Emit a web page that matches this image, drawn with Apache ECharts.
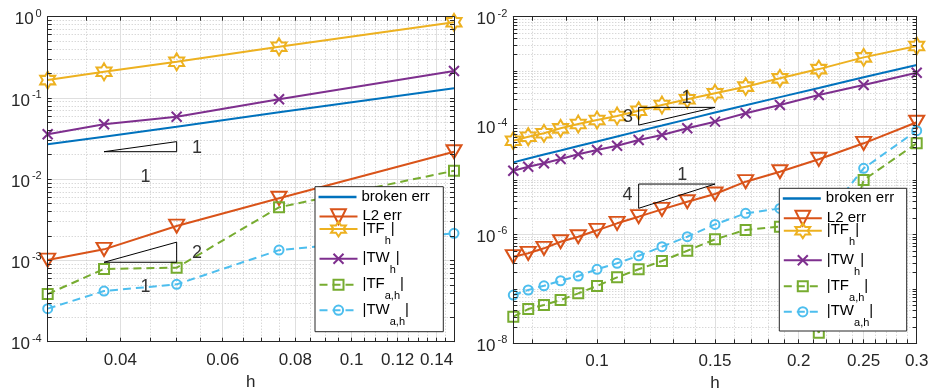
<!DOCTYPE html>
<html>
<head>
<meta charset="utf-8">
<script src="https://cdn.jsdelivr.net/npm/echarts@6/dist/echarts.min.js"></script>
<style>
  html, body { margin: 0; padding: 0; background: #fff; }
  #chart { width: 934px; height: 389px; }
</style>
</head>
<body>
<div id="chart"></div>
<script>
// ---- mesh sizes ----
const hLeft = [0.03, 0.0375, 0.05, 0.075, 0.15];
const hRight = [0.075, 0.078947, 0.083333, 0.088235, 0.09375, 0.1, 0.107143, 0.115385,
                0.125, 0.136364, 0.15, 0.166667, 0.1875, 0.214286, 0.25, 0.3];

// ---- left panel errors ----
const brokenL = [0.0269, 0.0334, 0.0443, 0.0665, 0.1315];
const l2L     = [1.01e-3, 1.37e-3, 2.65e-3, 5.82e-3, 0.0218];
const tfL     = [0.166, 0.210, 0.279, 0.427, 0.853];
const twL     = [0.0357, 0.0474, 0.0588, 0.0962, 0.215];
const tfaL    = [3.86e-4, 7.85e-4, 8.15e-4, 4.51e-3, 0.0127];
const twaL    = [2.55e-4, 4.2e-4, 5.08e-4, 1.34e-3, 2.16e-3];

// ---- right panel errors ----
const brokenR = [2.11e-5, 2.48e-5, 2.93e-5, 3.48e-5, 4.2e-5, 5.1e-5, 6.3e-5, 7.9e-5,
                 1.0e-4, 1.3e-4, 1.74e-4, 2.36e-4, 3.33e-4, 4.9e-4, 7.7e-4, 1.30e-3];
const l2R     = [3.90e-7, 4.50e-7, 5.56e-7, 7.35e-7, 9.07e-7, 1.19e-6, 1.6e-6, 2.12e-6,
                 2.89e-6, 3.99e-6, 5.53e-6, 9.31e-6, 1.42e-5, 2.40e-5, 4.72e-5, 1.15e-4];
const tfR     = [5.27e-5, 6.24e-5, 7.21e-5, 8.9e-5, 1.07e-4, 1.265e-4, 1.5e-4, 1.875e-4,
                 2.39e-4, 3.04e-4, 3.92e-4, 5.18e-4, 7.38e-4, 1.09e-3, 1.79e-3, 2.9e-3];
const twR     = [1.48e-5, 1.75e-5, 2.03e-5, 2.43e-5, 2.97e-5, 3.56e-5, 4.27e-5, 5.43e-5,
                 6.71e-5, 8.91e-5, 1.18e-4, 1.68e-4, 2.39e-4, 3.64e-4, 5.55e-4, 9.35e-4];
const tfaR    = [3.08e-8, 4.26e-8, 5.05e-8, 6.24e-8, 8.28e-8, 1.13e-7, 1.63e-7, 2.29e-7,
                 3.25e-7, 5.02e-7, 8.13e-7, 1.21e-6, 1.39e-6, 1.56e-8, 1.0e-5, 4.72e-5];
const twaR    = [7.71e-8, 9.53e-8, 1.14e-7, 1.41e-7, 1.72e-7, 2.29e-7, 2.95e-7, 4.06e-7,
                 5.95e-7, 9.08e-7, 1.53e-6, 2.44e-6, 3.0e-6, 1.48e-6, 1.64e-5, 8.05e-5];

// ---- reference slope triangles (h, error) ----
const slopeL1 = [[0.0375, 0.0218], [0.05, 0.029], [0.05, 0.0218], [0.0375, 0.0218]];
const slopeL2 = [[0.0375, 9.5e-4], [0.05, 1.68e-3], [0.05, 9.5e-4], [0.0375, 9.5e-4]];
const slopeR3 = [[0.115385, 1.02e-4], [0.15, 2.16e-4], [0.115385, 2.16e-4], [0.115385, 1.02e-4]];
const slopeR4 = [[0.115385, 3.02e-6], [0.15, 8.43e-6], [0.115385, 8.43e-6], [0.115385, 3.02e-6]];
const slopeTextL = [['1', 0.0542, 0.0242], ['1', 0.0442, 0.0107], ['2', 0.0542, 1.245e-3], ['1', 0.0442, 4.67e-4]];
const slopeTextR = [['1', 0.136, 3.17e-4], ['3', 0.1112, 1.46e-4], ['1', 0.134, 1.24e-5], ['4', 0.111, 5.3e-6]];

// ---- ticks ----
const xMajorL = [0.04, 0.06, 0.08, 0.1, 0.12, 0.14];
const xMinorL = [0.035, 0.045, 0.05, 0.055, 0.065, 0.07, 0.075, 0.085, 0.09, 0.095,
                 0.105, 0.11, 0.115, 0.125, 0.13, 0.135, 0.145];
const xMajorR = [0.1, 0.15, 0.2, 0.25, 0.3];
const xMinorR = [0.08, 0.09, 0.11, 0.12, 0.13, 0.14, 0.16, 0.17, 0.18, 0.19,
                 0.21, 0.22, 0.23, 0.24, 0.26, 0.27, 0.28, 0.29];
const yMajorL = [1e-4, 1e-3, 1e-2, 1e-1, 1];
const yMajorR = [1e-8, 1e-6, 1e-4, 1e-2];

const names = ['broken err', 'L2 err', '|TF_h|', '|TW_h|', '|TF_a,h|', '|TW_a,h|'];
const legendText = {
  'broken err': '{m|broken err}',
  'L2 err': '{m|L2 err}',
  '|TF_h|': '{m||TF}{s|h}{m||}',
  '|TW_h|': '{m||TW}{s|h}{m||}',
  '|TF_a,h|': '{m||TF}{s|a,h}{m||}',
  '|TW_a,h|': '{m||TW}{s|a,h}{m||}'
};

// ---- styling ----
const COL = ['#0072BD', '#D95319', '#EDB120', '#7E2F8E', '#77AC30', '#4DBEEE'];
const AX = '#262626';
const FONT = '"Liberation Sans", Arial, Helvetica, sans-serif';
const SYM = [
  'none',
  'path://M0,0L16,0L8,14Z',
  'path://M0,-1L0.2887,-0.5L0.866,-0.5L0.577,0L0.866,0.5L0.2887,0.5L0,1L-0.2887,0.5L-0.866,0.5L-0.577,0L-0.866,-0.5L-0.2887,-0.5Z',
  'path://M0,0L1,1M1,0L0,1',
  'path://M0,0L1,0L1,1L0,1Z',
  'circle'
];
const SYMSIZE = [0, [15, 13], [15, 17], 10, 10, 9];
const DASHED = [false, false, false, false, true, true];

function minorDecades(lo, hi, withOdd) {
  const out = [];
  for (let k = lo; k < hi; k++) {
    if (withOdd && k !== lo && (k - lo) % 2 === 1) out.push(Math.pow(10, k));
    for (let m = 2; m <= 9; m++) out.push(+(m * Math.pow(10, k)).toPrecision(6));
  }
  return out;
}
const yMinorL = minorDecades(-4, 0, false);
const yMinorR = minorDecades(-8, -2, true);

const fmtX = v => String(+(+v).toPrecision(4));
const fmtY = v => '{b|10}{s|' + Math.round(Math.log10(v)) + '}';

function axisSet(dim, gi, min, max, major, minor) {
  const lineStyle = { color: AX, width: 1 };
  const all = major.concat(minor);
  const isX = dim === 'x';
  const main = {
    type: 'log', logBase: 10, gridIndex: gi, min: min, max: max,
    position: isX ? 'bottom' : 'left',
    axisLine: { show: true, lineStyle: lineStyle },
    axisTick: { show: true, inside: true, length: 4, customValues: all, lineStyle: lineStyle },
    axisLabel: isX
      ? { customValues: major, formatter: fmtX, color: AX, fontFamily: FONT, fontSize: 17, margin: 10 }
      : { customValues: major, formatter: fmtY, color: AX, margin: 6,
          rich: {
            b: { fontFamily: FONT, fontSize: 17, lineHeight: 17, padding: [3, 0, 0, 0], verticalAlign: 'top', color: AX },
            s: { fontFamily: FONT, fontSize: 11, lineHeight: 11, padding: [0, 0, 0, 2], verticalAlign: 'top', color: AX }
          } },
    splitLine: { show: false },
    z: 5
  };
  if (isX) {
    main.name = 'h';
    main.nameLocation = 'middle';
    main.nameGap = 32;
    main.nameTextStyle = { fontFamily: FONT, fontSize: 17, color: AX, verticalAlign: 'top' };
  }
  const minorGrid = {
    type: 'log', logBase: 10, gridIndex: gi, min: min, max: max,
    position: isX ? 'bottom' : 'left',
    axisLine: { show: false }, axisLabel: { show: false, customValues: minor },
    axisTick: { show: false, customValues: minor },
    splitLine: { show: true, lineStyle: { color: '#c8c8c8', width: 1, type: [1, 2] } }
  };
  const majorGrid = {
    type: 'log', logBase: 10, gridIndex: gi, min: min, max: max,
    position: isX ? 'bottom' : 'left',
    axisLine: { show: false }, axisLabel: { show: false, customValues: major },
    axisTick: { show: false, customValues: major },
    splitLine: { show: true, lineStyle: { color: '#dfdfdf', width: 1, type: 'solid' } }
  };
  const box = {
    type: 'log', logBase: 10, gridIndex: gi, min: min, max: max,
    position: isX ? 'top' : 'right',
    axisLine: { show: true, lineStyle: lineStyle },
    axisTick: { show: true, inside: true, length: 4, customValues: all, lineStyle: lineStyle },
    axisLabel: { show: false, customValues: major },
    splitLine: { show: false },
    z: 5
  };
  return [main, minorGrid, majorGrid, box];
}

const xAxes = axisSet('x', 0, 0.03, 0.15, xMajorL, xMinorL)
  .concat(axisSet('x', 1, 0.075, 0.3, xMajorR, xMinorR));
const yAxes = axisSet('y', 0, 1e-4, 1, yMajorL, yMinorL)
  .concat(axisSet('y', 1, 1e-8, 1e-2, yMajorR, yMinorR));

function lineSeries(i, axisIdx, h, vals) {
  return {
    type: 'line', name: names[i], xAxisIndex: axisIdx, yAxisIndex: axisIdx,
    data: h.map((x, k) => [x, vals[k]]),
    color: COL[i],
    symbol: SYM[i], symbolSize: SYMSIZE[i], showSymbol: SYM[i] !== 'none',
    lineStyle: { color: COL[i], width: 2, type: DASHED[i] ? [8, 5] : 'solid' },
    itemStyle: { color: 'rgba(0,0,0,0)', borderColor: COL[i], borderWidth: 2 },
    clip: false, silent: true, animation: false, z: 2 + i * 0.01
  };
}

function slopeSeries(axisIdx, pts) {
  return {
    type: 'line', xAxisIndex: axisIdx, yAxisIndex: axisIdx, data: pts,
    symbol: 'none', lineStyle: { color: '#000', width: 1 }, silent: true,
    animation: false, clip: false, z: 3
  };
}
function slopeTextSeries(axisIdx, items) {
  return {
    type: 'scatter', xAxisIndex: axisIdx, yAxisIndex: axisIdx,
    data: items.map(t => ({ name: t[0], value: [t[1], t[2]] })),
    symbolSize: 1, itemStyle: { color: 'rgba(0,0,0,0)' }, silent: true, animation: false,
    label: { show: true, position: 'inside', formatter: '{b}', color: '#000', fontFamily: FONT, fontSize: 18 },
    z: 3
  };
}

const leftData = [brokenL, l2L, tfL, twL, tfaL, twaL];
const rightData = [brokenR, l2R, tfR, twR, tfaR, twaR];
const series = [];
leftData.forEach((v, i) => series.push(lineSeries(i, 0, hLeft, v)));
rightData.forEach((v, i) => series.push(lineSeries(i, 4, hRight, v)));
series.push(slopeSeries(0, slopeL1), slopeSeries(0, slopeL2),
            slopeSeries(4, slopeR3), slopeSeries(4, slopeR4),
            slopeTextSeries(0, slopeTextL), slopeTextSeries(4, slopeTextR));

// ---- legends: one row per entry inside a framed box ----
const legendBoxes = [
  { x: 315, y: 186.7, w: 128.3, h: 145 },
  { x: 779.3, y: 188.3, w: 127.4, h: 142.7 }
];
const rowOffsets = [10.3, 29.5, 47, 77, 103, 128.5];
const iconH = [2.5, 18.5, 18.5, 12.5, 12.5, 11.5];
const legends = [];
legendBoxes.forEach(b => {
  names.forEach((n, i) => {
    const sub = i >= 2;
    const blockHalf = sub ? 13 : 8;
    legends.push({
      data: [n], orient: 'vertical', left: b.x + 3.5,
      top: b.y + rowOffsets[i] - blockHalf,
      padding: 0, itemGap: 0, itemWidth: 38, itemHeight: iconH[i],
      icon: i === 0 ? 'rect' : undefined,
      selectedMode: false,
      lineStyle: { width: 2 },
      itemStyle: i === 0 ? { color: COL[0], borderWidth: 0 } : { borderWidth: 2 },
      formatter: name => legendText[name],
      textStyle: {
        color: '#000',
        rich: {
          m: { fontFamily: FONT, fontSize: 15, lineHeight: 16, verticalAlign: 'top', color: '#000' },
          s: { fontFamily: FONT, fontSize: 11, lineHeight: 11, padding: [14, 0, 0, 0], verticalAlign: 'top', color: '#000' }
        }
      },
      z: 10
    });
  });
});

const chart = echarts.init(document.getElementById('chart'), null, { renderer: 'canvas' });
chart.setOption({
  animation: false,
  backgroundColor: '#fff',
  grid: [
    { left: 47.7, top: 16.7, width: 406.3, height: 325, containLabel: false, outerBoundsMode: 'none' },
    { left: 513.3, top: 16.7, width: 403.4, height: 326.6, containLabel: false, outerBoundsMode: 'none' }
  ],
  xAxis: xAxes,
  yAxis: yAxes,
  legend: legends,
  graphic: legendBoxes.map(b => ({
    type: 'rect', z: 8,
    shape: { x: b.x, y: b.y, width: b.w, height: b.h },
    style: { fill: '#fff', stroke: AX, lineWidth: 1 }
  })),
  series: series
});
</script>
</body>
</html>
